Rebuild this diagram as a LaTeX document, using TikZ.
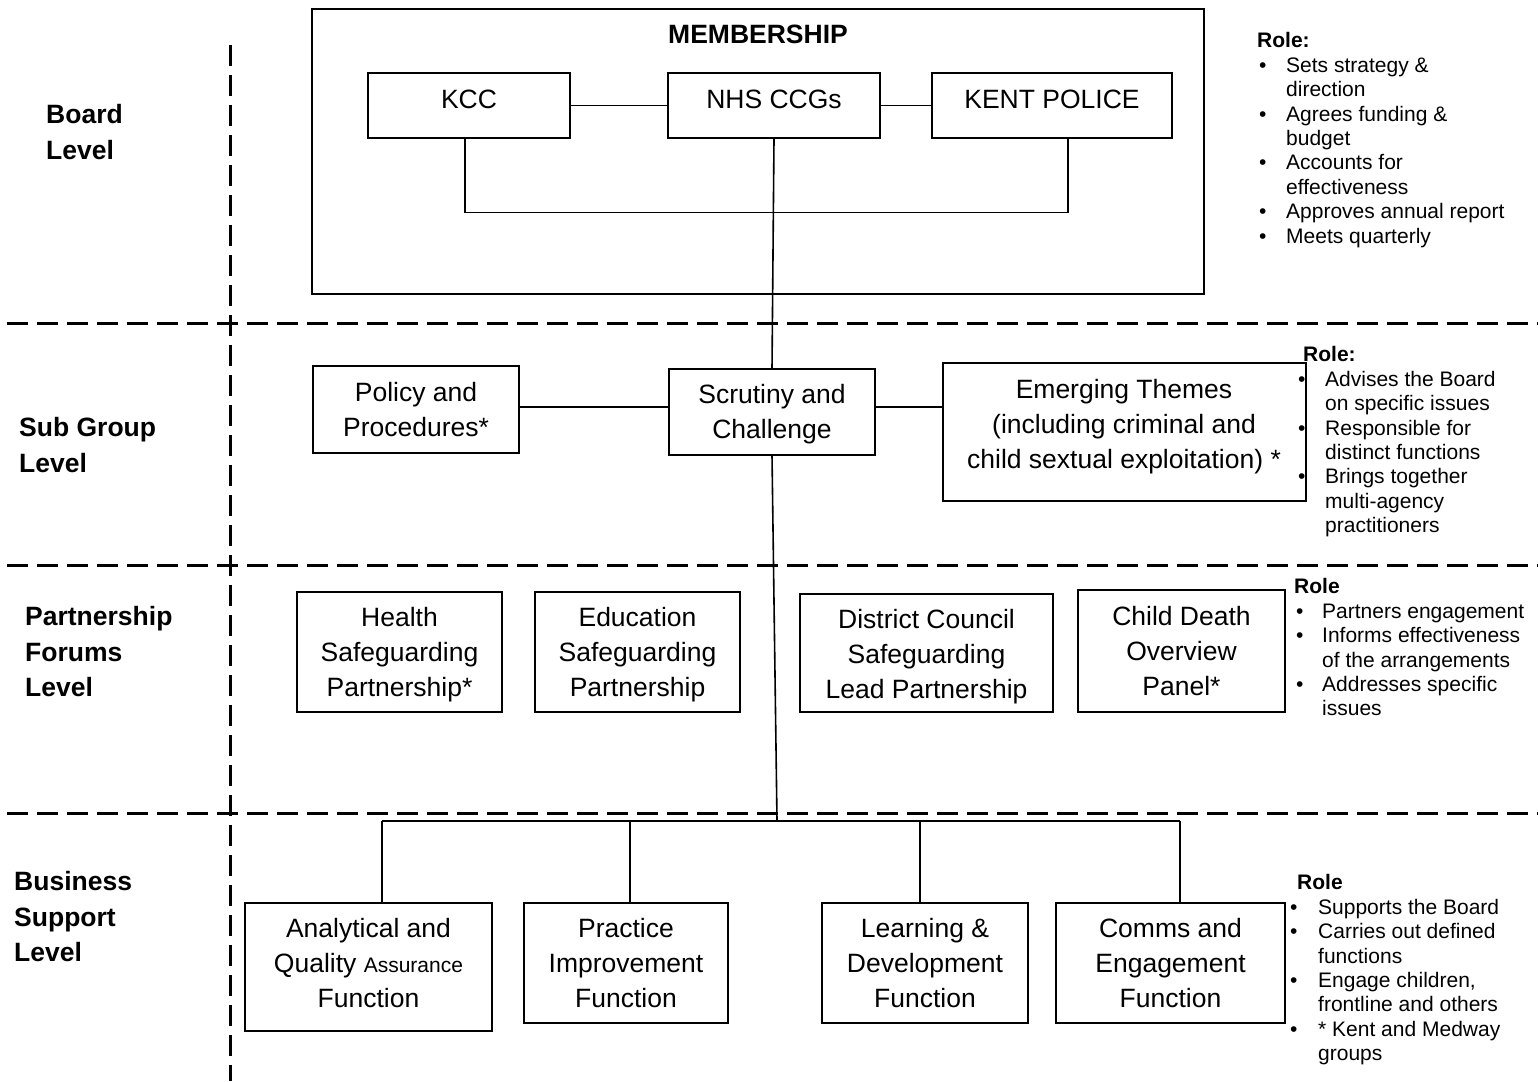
\documentclass[tikz,border=0pt]{standalone}
\usepackage{fontspec}
\setmainfont{Liberation Sans}
\usetikzlibrary{calc}
\newcommand\rolebul[2]{\makebox[#2pt][l]{\hspace*{#1pt}•}}
\newcommand\rolecont[1]{\hspace*{#1pt}}
\begin{document}
\begin{tikzpicture}[x=1pt,y=-1pt]
\tikzset{
 box/.style={draw, line width=1.3pt, inner sep=0pt},
 txt/.style={font=\fontsize{26.5}{35}\selectfont, align=center, inner sep=0pt},
 ttl/.style={font=\fontsize{26.5}{35}\selectfont\bfseries, inner sep=0pt},
 lvl/.style={font=\fontsize{26.5}{35.5}\selectfont\bfseries, align=left, anchor=north west, inner sep=0pt},
 role/.style={font=\fontsize{21}{24.4}\selectfont, align=left, anchor=north west, inner sep=0pt},
 conn/.style={line width=1.6pt},
 sep/.style={line width=3pt, dash pattern=on 21pt off 9pt},
}
\useasboundingbox[fill=white] (0,0) rectangle (1538,1081);

% separators
\draw[sep] (7,323) -- (1538,323);
\draw[sep] (7,565) -- (1538,565);
\draw[sep] (7,813) -- (1538,813);
\draw[sep] (230,45) -- (230,1081);

% level labels
\node[lvl, font=\fontsize{26.5}{36}\selectfont\bfseries] (lv1) at (46,104.5) {Board\\Level};
\node[lvl] (lv2) at (19,417.5) {Sub Group\\Level};
\node[lvl] (lv3) at (25,606.5) {Partnership\\Forums\\Level};
\node[lvl] (lv4) at (14,871.5) {Business\\Support\\Level};

% board level
\node[box, minimum width=892, minimum height=285] (member) at (758,151.5) {};
\node[ttl] (membert) at (758,34) {MEMBERSHIP};
\node[box, minimum width=202, minimum height=65] (kcc) at (469,105.5) {};
\node[box, minimum width=212, minimum height=65] (nhs) at (774,105.5) {};
\node[box, minimum width=240, minimum height=65] (kent) at (1052,105.5) {};
\node[txt] (kcct) at (469,99) {KCC};
\node[txt] (nhst) at (774,99) {NHS CCGs};
\node[txt] (kentt) at (1052,99) {KENT POLICE};

% sub group level
\node[box, minimum width=206, minimum height=87] (policy) at (416,409.5) {};
\node[box, minimum width=206, minimum height=86] (scrut) at (772,412) {};
\node[box, minimum width=363, minimum height=138] (emerg) at (1124.5,432) {};
\node[txt] (policyt) at (416,409.5) {Policy and\\Procedures*};
\node[txt] (scrutt) at (772,413.8) {Scrutiny and\\Challenge};
\node[txt] (emergt) at (1124,426.3) {Emerging Themes\\(including criminal and\\child sextual exploitation) *};

% partnership forums level
\node[box, minimum width=205, minimum height=120] (health) at (399.5,652) {};
\node[box, minimum width=205, minimum height=120] (educ) at (637.5,652) {};
\node[box, minimum width=253, minimum height=118] (dist) at (926.5,653) {};
\node[box, minimum width=207, minimum height=122] (cdop) at (1181.5,651) {};
\node[txt] (healtht) at (399.5,654.8) {Health\\Safeguarding\\Partnership*};
\node[txt] (educt) at (637.5,654.8) {Education\\Safeguarding\\Partnership};
\node[txt] (distt) at (926.5,656.8) {District Council\\Safeguarding\\Lead Partnership};
\node[txt] (cdopt) at (1181.5,651) {Child Death\\Overview\\Panel*};

% business support level
\node[box, minimum width=247, minimum height=128] (anal) at (368.5,967) {};
\node[box, minimum width=204, minimum height=120] (prac) at (626,963) {};
\node[box, minimum width=206, minimum height=120] (learn) at (925,963) {};
\node[box, minimum width=229, minimum height=120] (comms) at (1170.5,963) {};
\node[txt] (analt) at (368.5,963.5) {Analytical and\\Quality {\fontsize{21}{35}\selectfont Assurance}\\Function};
\node[txt] (pract) at (626,963.5) {Practice\\Improvement\\Function};
\node[txt] (learnt) at (925,963.5) {Learning \&\\Development\\Function};
\node[txt] (commst) at (1170.5,963.5) {Comms and\\Engagement\\Function};

% connectors
\draw[conn] (kcc.east) -- (nhs.west);
\draw[conn] (nhs.east) -- (kent.west);
\draw[conn] ($(kcc.south)+(-4,0)$) -- ++(0,74) -| ($(kent.south)+(16,0)$);
\draw[conn] (nhs.south) -- (scrut.north);
\draw[conn] ([yshift=2.5pt]policy.east) -- ([yshift=2.5pt]policy.east -| scrut.west);
\draw[conn] ([yshift=5pt]scrut.east) -- ([yshift=5pt]scrut.east -| emerg.west);
\coordinate (bus) at (777,821);
\coordinate (busL) at (382,821);
\coordinate (busR) at (1180,821);
\draw[conn] (scrut.south) -- (bus);
\draw[conn] (busL) -- (busR);
\coordinate (av) at ($(anal.north)+(13.5,0)$);
\coordinate (pv) at ($(prac.north)+(4,0)$);
\coordinate (lv) at ($(learn.north)+(-5,0)$);
\coordinate (cv) at ($(comms.north)+(9.5,0)$);
\draw[conn] (av |- bus) -- (av);
\draw[conn] (pv |- bus) -- (pv);
\draw[conn] (lv |- bus) -- (lv);
\draw[conn] (cv |- bus) -- (cv);

% role texts
\node[role] (role1) at (1257,32.5) {\textbf{Role:}\\
\rolebul{2}{29}Sets strategy \&\\
\rolecont{29}direction\\
\rolebul{2}{29}Agrees funding \&\\
\rolecont{29}budget\\
\rolebul{2}{29}Accounts for\\
\rolecont{29}effectiveness\\
\rolebul{2}{29}Approves annual report\\
\rolebul{2}{29}Meets quarterly};
\node[role] (role2) at (1298,346.5) {\rolecont{5}\textbf{Role:}\\
\rolebul{0}{27}Advises the Board\\
\rolecont{27}on specific issues\\
\rolebul{0}{27}Responsible for\\
\rolecont{27}distinct functions\\
\rolebul{0}{27}Brings together\\
\rolecont{27}multi-agency\\
\rolecont{27}practitioners};
\node[role] (role3) at (1294,578.5) {\textbf{Role}\\
\rolebul{2}{28}Partners engagement\\
\rolebul{2}{28}Informs effectiveness\\
\rolecont{28}of the arrangements\\
\rolebul{2}{28}Addresses specific\\
\rolecont{28}issues};
\node[role] (role4) at (1290,874.5) {\rolecont{7}\textbf{Role}\\
\rolebul{0}{28}Supports the Board\\
\rolebul{0}{28}Carries out defined\\
\rolecont{28}functions\\
\rolebul{0}{28}Engage children,\\
\rolecont{28}frontline and others\\
\rolebul{0}{28}* Kent and Medway\\
\rolecont{28}groups};
\end{tikzpicture}
\end{document}
